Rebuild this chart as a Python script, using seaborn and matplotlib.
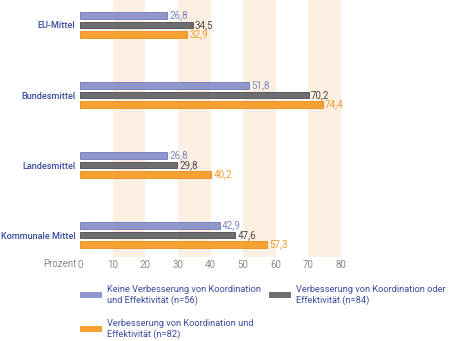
import matplotlib
matplotlib.use("Agg")
import matplotlib.pyplot as plt
from matplotlib.patches import Patch
import seaborn as sns
import pandas as pd

categories = ["EU-Mittel", "Bundesmittel", "Landesmittel", "Kommunale Mittel"]
series = [
    "Keine Verbesserung von Koordination\nund Effektivität (n=56)",
    "Verbesserung von Koordination oder\nEffektivität (n=84)",
    "Verbesserung von Koordination und\nEffektivität (n=82)",
]
keine = [26.8, 51.8, 26.8, 42.9]
oder = [34.5, 70.2, 29.8, 47.6]
und = [32.9, 74.4, 40.2, 57.3]
ticks = [0, 10, 20, 30, 40, 50, 60, 70, 80]

bar_colors = ["#9097cd", "#6e6e71", "#f7a133"]
edge_colors = ["#6f78b8", "#4a4a4d", "#e98a1a"]
text_colors = ["#7d86c6", "#4a4a4a", "#f39a2a"]
label_blue = "#3a4d9e"

sns.set_theme(style="white")
plt.rcParams["font.family"] = ["Roboto", "DejaVu Sans"]

rows = []
for s, vals in zip(series, [keine, oder, und]):
    for c, v in zip(categories, vals):
        rows.append({"Kategorie": c, "Serie": s, "Wert": v})
df = pd.DataFrame(rows)

fig = plt.figure(figsize=(4.5, 3.41), dpi=100)
ax = fig.add_axes([80 / 450, 1 - 257 / 341, (341 - 80) / 450, 257 / 341])

# light shaded bands behind every second decade
for lo in (10, 30, 50, 70):
    ax.axvspan(lo, lo + 10, color="#fdf0e2", zorder=0, lw=0)

sns.barplot(
    data=df, x="Wert", y="Kategorie", hue="Serie", orient="h",
    order=categories, hue_order=series, palette=bar_colors, saturation=1,
    width=0.4, gap=0.3, ax=ax, legend=False, zorder=2,
)

for i, cont in enumerate(ax.containers):
    for bar in cont:
        bar.set_edgecolor(edge_colors[i])
        bar.set_linewidth(0.6)
    ax.bar_label(
        cont, labels=[f"{v:.1f}".replace(".", ",") for v in cont.datavalues],
        padding=1.5, color=text_colors[i], fontsize=7,
    )

ax.set_xlim(0, 80)
ax.set_ylim(3.314, -0.357)
ax.set_xticks(ticks)
ax.set_xticklabels([str(t) for t in ticks], color="#8a8a8a", fontsize=7)
ax.tick_params(axis="x", length=0, pad=2)
ax.tick_params(axis="y", length=0, pad=3.3)
for lab in ax.get_yticklabels():
    lab.set_color(label_blue)
    lab.set_fontsize(6.6)
    lab.set_fontweight("medium")
ax.set_xlabel("")
ax.set_ylabel("")
for sp in ax.spines.values():
    sp.set_visible(False)

fig.text(77 / 450, 1 - 264 / 341, "Prozent", ha="right", va="center",
         color="#8a8a8a", fontsize=7)

# column-major fill: first column blue + orange, second column gray
order = [0, 2, 1]
handles = [Patch(facecolor=bar_colors[k], edgecolor="none") for k in order]
fig.legend(
    handles, [series[k] for k in order], ncol=2, frameon=False,
    loc="upper left", bbox_to_anchor=(80 / 450, 1 - 285 / 341), fontsize=6.7,
    labelcolor=label_blue, handlelength=2.4, handleheight=0.55,
    handletextpad=0.55, columnspacing=0.8, labelspacing=1.5,
    borderpad=0, borderaxespad=0,
)

fig.savefig("out.png", dpi=100)
